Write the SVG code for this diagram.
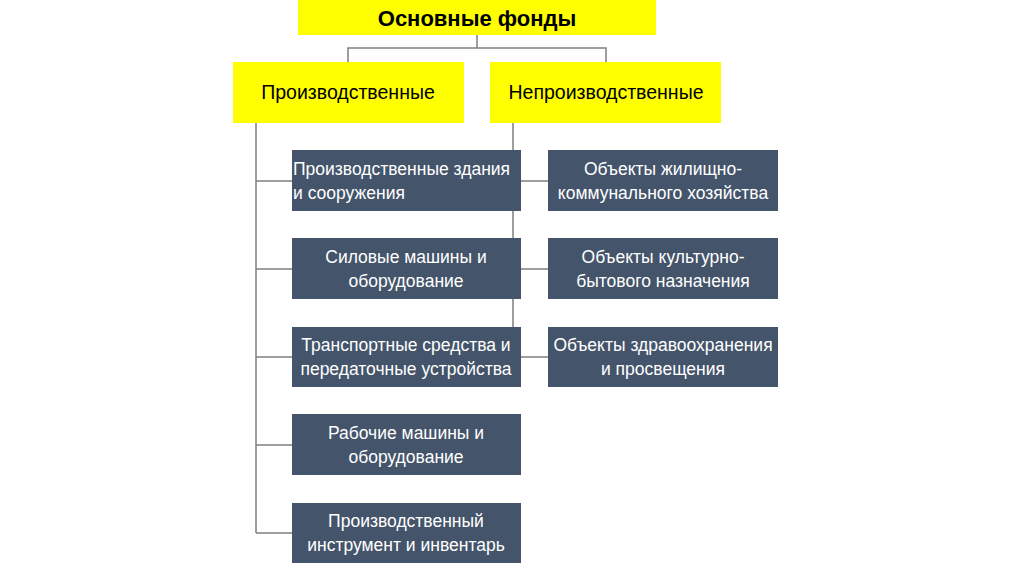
<svg xmlns="http://www.w3.org/2000/svg" width="1024" height="574" viewBox="0 0 1024 574">
<style>
.y{fill:#FFFF00}
.d{fill:#44546A}
.ln{stroke:#7F7F7F;stroke-width:1.5;fill:none}
.t{font-family:"Liberation Sans",Arial,sans-serif;font-size:17.5px;fill:#FFFFFF;text-anchor:middle;dominant-baseline:central}
.ty{font-family:"Liberation Sans",Arial,sans-serif;font-size:19.5px;fill:#000000;text-anchor:middle;dominant-baseline:central}
.tb{font-family:"Liberation Sans",Arial,sans-serif;font-size:22px;font-weight:bold;fill:#000000;text-anchor:middle;dominant-baseline:central}
</style>
<rect width="1024" height="574" fill="#FFFFFF"/>
<g id="connectors">
<path class="ln" d="M477 35V48M348 62V48H606V62"/>
<path class="ln" d="M256 123V533M256 181H292M256 269H292M256 357H292M256 445H292M256 533H292"/>
<path class="ln" d="M513 123V357M513 181H548M513 269H548M513 357H548"/>
</g>
<g id="root"><rect class="y" x="298" y="0" width="358" height="35"/><text class="tb" x="477" y="18">Основные фонды</text></g>
<g id="prod"><rect class="y" x="233" y="62" width="231" height="61"/><text class="ty" x="348" y="92">Производственные</text></g>
<g id="nonprod"><rect class="y" x="490" y="62" width="231" height="61"/><text class="ty" x="606" y="92">Непроизводственные</text></g>
<g id="p1"><rect class="d" x="292" y="150" width="229" height="61"/><text class="t" x="293" y="169" style="text-anchor:start">Производственные здания</text><text class="t" x="293" y="193" style="text-anchor:start">и сооружения</text></g>
<g id="p2"><rect class="d" x="292" y="238" width="229" height="61"/><text class="t" x="406" y="257">Силовые машины и</text><text class="t" x="406" y="281">оборудование</text></g>
<g id="p3"><rect class="d" x="292" y="327" width="229" height="60"/><text class="t" x="406" y="345">Транспортные средства и</text><text class="t" x="406" y="369">передаточные устройства</text></g>
<g id="p4"><rect class="d" x="292" y="414" width="229" height="61"/><text class="t" x="406" y="433">Рабочие машины и</text><text class="t" x="406" y="457">оборудование</text></g>
<g id="p5"><rect class="d" x="292" y="503" width="229" height="60"/><text class="t" x="406" y="521">Производственный</text><text class="t" x="406" y="545">инструмент и инвентарь</text></g>
<g id="n1"><rect class="d" x="548" y="150" width="230" height="61"/><text class="t" x="663" y="169">Объекты жилищно-</text><text class="t" x="663" y="193">коммунального хозяйства</text></g>
<g id="n2"><rect class="d" x="548" y="238" width="230" height="61"/><text class="t" x="663" y="257">Объекты культурно-</text><text class="t" x="663" y="281">бытового назначения</text></g>
<g id="n3"><rect class="d" x="548" y="327" width="230" height="60"/><text class="t" x="663" y="345">Объекты здравоохранения</text><text class="t" x="663" y="369">и просвещения</text></g>
</svg>
